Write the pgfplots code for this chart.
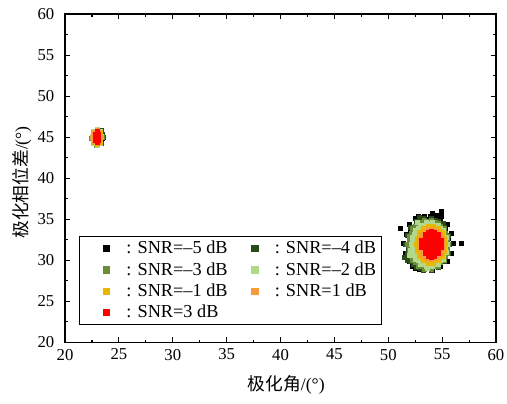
\documentclass[border=0pt]{standalone}
\usepackage{pgfplots}
\pgfplotsset{compat=1.18}
\usetikzlibrary{calc}
\usepackage{fontspec}
\setmainfont{Liberation Serif}
\newfontfamily\cjk{Noto Sans CJK SC}
\definecolor{cA}{HTML}{000000}
\definecolor{cB}{HTML}{2A4A18}
\definecolor{cC}{HTML}{6B8C3A}
\definecolor{cD}{HTML}{B2D88E}
\definecolor{cE}{HTML}{E8B800}
\definecolor{cF}{HTML}{F59B3C}
\definecolor{cG}{HTML}{FF0000}
\begin{document}
\begin{tikzpicture}
\begin{axis}[
  scale only axis, width=323pt, height=246pt,
  xmin=20, xmax=60, ymin=20, ymax=60,
  clip=false,
  xtick={20,25,...,60}, ytick={20,25,...,60},
  minor tick num=1, tick align=inside,
  major tick length=4pt, minor tick length=2pt,
  axis line style={line width=0.9pt},
  every tick/.style={black, line width=0.8pt},
  /pgf/number format/assume math mode=true,
  tick label style={font=\fontsize{12.5}{14}\selectfont},
  xticklabel style={yshift=-1.5pt},
  yticklabel style={xshift=-4.5pt},
  xlabel={{\cjk 极化角}/(°)}, ylabel={{\cjk 极化相位差}/(°)},
  label style={font=\fontsize{13.3}{15}\selectfont},
  xlabel style={at={(axis description cs:0.513,-0.131)}, anchor=center},
  ylabel style={at={(axis description cs:-0.0998,0.487)}, anchor=center},
  legend style={at={(0.032,0.052)}, anchor=south west, draw=black, line width=0.8pt,
    font=\fontsize{13.7}{16}\selectfont, legend columns=2,
    nodes={inner ysep=1pt, text height=11pt, text depth=3pt},
    inner xsep=2pt, inner ysep=1pt,
    /tikz/every even column/.append style={column sep=0pt}},
  legend cell align=left,
  legend image code/.code={\path[draw=none,fill=none] (0cm,-2pt) rectangle (1.1cm,2pt); \draw[mark size=2.3pt,#1] plot coordinates {(0.65cm,0cm)};},
  every axis plot/.append style={only marks, mark=square*, mark size=1.5pt},
]
\addplot[color=cA] coordinates {
(56.00,32.10)(55.86,33.30)(55.46,34.35)(54.85,35.13)(54.10,35.75)(53.30,35.35)(52.55,35.13)(51.94,34.35)(51.64,33.20)(51.40,32.10)(51.54,30.90)(51.94,29.85)(52.55,29.07)(53.30,28.85)(54.10,28.75)(54.85,29.27)(55.46,29.85)(55.86,30.90)
(51.1,33.9)(56.8,32.1)(54.9,35.9)(54.5,35.5)(54.9,35.3)(52.5,29.0)(55.25,30.85)(52.2,29.3)(53.9,35.3)(55.3,33.8)(52.0,33.6)(52.9,28.9)(53.6,35.0)(52.8,35.3)(55.6,32.7)
(23.3,45.0)(22.7,44.6)(23.5,44.8)
};
\addlegendentry{: SNR=--5 dB}
\addplot[color=cB] coordinates {
(55.70,31.95)(55.58,33.06)(55.22,34.04)(54.68,34.77)(54.01,35.15)(53.29,35.15)(52.63,34.77)(52.08,34.04)(51.72,33.06)(51.60,31.95)(51.72,30.84)(52.08,29.86)(52.63,29.14)(53.29,28.75)(54.01,28.75)(54.68,29.14)(55.22,29.86)(55.58,30.84)
(51.5,30.4)(51.8,30.0)(52.3,29.5)(53.0,29.0)(55.4,32.5)(52.2,33.8)(51.9,31.3)(54.4,34.9)(52.9,35.2)(55.1,34.5)
(23.52,44.95)(23.45,45.4)(23.0,46.0)(22.95,44.0)(23.35,45.8)(22.65,45.6)(23.35,44.3)(22.65,44.3)
};
\addlegendentry{: SNR=--4 dB}
\addplot[color=cC] coordinates {
(55.60,31.90)(55.49,32.93)(55.16,33.83)(54.65,34.50)(54.03,34.85)(53.37,34.85)(52.75,34.50)(52.25,33.83)(51.91,32.93)(51.80,31.90)(51.91,30.87)(52.25,29.97)(52.75,29.30)(53.37,28.95)(54.03,28.95)(54.65,29.30)(55.16,29.97)(55.49,30.87)
(55.47,32.40)(55.26,33.33)(54.86,34.08)(54.32,34.58)(53.70,34.75)(53.08,34.58)(52.54,34.08)(52.14,33.33)(51.93,32.40)(51.93,31.40)(52.14,30.48)(52.54,29.72)(53.08,29.22)(53.70,29.05)(54.32,29.22)(54.86,29.72)(55.26,30.48)(55.47,31.40)
(23.45,45.0)(22.48,44.9)(23.0,45.95)(22.9,44.0)(23.3,45.7)(22.6,45.7)(23.3,44.3)(22.6,44.3)
};
\addlegendentry{: SNR=--3 dB}
\addplot[color=cD] coordinates {
(55.45,31.90)(55.35,32.82)(55.06,33.64)(54.63,34.24)(54.09,34.56)(53.51,34.56)(52.98,34.24)(52.54,33.64)(52.25,32.82)(52.15,31.90)(52.25,30.98)(52.54,30.16)(52.98,29.56)(53.51,29.24)(54.09,29.24)(54.63,29.56)(55.06,30.16)(55.35,30.98)
(55.33,32.34)(55.14,33.18)(54.80,33.85)(54.33,34.30)(53.80,34.45)(53.27,34.30)(52.80,33.85)(52.46,33.18)(52.27,32.34)(52.27,31.46)(52.46,30.63)(52.80,29.95)(53.27,29.50)(53.80,29.35)(54.33,29.50)(54.80,29.95)(55.14,30.63)(55.33,31.46)
(51.95,30.6)(52.0,31.2)(53.6,29.0)(52.7,34.6)
(23.4,45.1)(22.5,45.1)(22.95,45.95)(22.95,44.05)(23.28,45.7)(22.6,45.7)(23.28,44.3)(22.6,44.3)
};
\addlegendentry{: SNR=--2 dB}
\addplot[color=cE] coordinates {
(55.30,31.90)(55.22,32.67)(54.98,33.35)(54.63,33.85)(54.18,34.12)(53.72,34.12)(53.28,33.85)(52.92,33.35)(52.68,32.67)(52.60,31.90)(52.68,31.13)(52.92,30.45)(53.28,29.95)(53.72,29.68)(54.18,29.68)(54.63,29.95)(54.98,30.45)(55.22,31.13)
(55.18,32.27)(55.03,32.95)(54.75,33.51)(54.38,33.87)(53.95,34.00)(53.52,33.87)(53.15,33.51)(52.87,32.95)(52.72,32.27)(52.72,31.53)(52.87,30.85)(53.15,30.29)(53.52,29.93)(53.95,29.80)(54.38,29.93)(54.75,30.29)(55.03,30.85)(55.18,31.53)
(23.38,45.0)(22.52,45.0)(22.95,45.85)(22.95,44.15)(23.25,45.6)(22.65,45.6)(23.25,44.4)(22.65,44.4)
};
\addlegendentry{: SNR=--1 dB}
\addplot[color=cF] coordinates {
(55.05,31.90)(54.98,32.53)(54.79,33.09)(54.50,33.50)(54.14,33.72)(53.76,33.72)(53.40,33.50)(53.11,33.09)(52.92,32.53)(52.85,31.90)(52.92,31.27)(53.11,30.71)(53.40,30.30)(53.76,30.08)(54.14,30.08)(54.50,30.30)(54.79,30.71)(54.98,31.27)
(54.94,32.20)(54.82,32.75)(54.59,33.20)(54.29,33.50)(53.95,33.60)(53.61,33.50)(53.31,33.20)(53.08,32.75)(52.97,32.20)(52.97,31.60)(53.08,31.05)(53.31,30.60)(53.61,30.30)(53.95,30.20)(54.29,30.30)(54.59,30.60)(54.82,31.05)(54.94,31.60)
(23.33,45.0)(22.57,45.0)(22.95,45.8)(22.95,44.2)(23.22,45.55)(22.68,45.55)(23.22,44.45)(22.68,44.45)
};
\addlegendentry{: SNR=1 dB}
\addplot[color=cG] coordinates {
(54.0,30.4)(54.0,30.8)(54.0,31.2)(54.0,31.6)(54.0,32.0)(54.0,32.4)(54.0,32.8)(54.0,33.2)(54.0,33.5)
(53.7,30.5)(53.7,30.8)(53.7,31.2)(53.7,31.6)(53.7,32.0)(53.7,32.4)(53.7,32.8)(53.7,33.2)(53.7,33.4)
(54.3,30.5)(54.3,30.8)(54.3,31.2)(54.3,31.6)(54.3,32.0)(54.3,32.4)(54.3,32.8)(54.3,33.2)(54.3,33.4)
(53.4,30.8)(53.4,31.2)(53.4,31.6)(53.4,32.0)(53.4,32.4)(53.4,32.8)(53.4,33.1)
(54.6,30.8)(54.6,31.2)(54.6,31.6)(54.6,32.0)(54.6,32.4)(54.6,32.8)(54.6,33.1)
(53.1,31.6)(53.1,32.0)(53.1,32.4)(54.9,31.6)(54.9,32.0)(54.9,32.4)
(22.85,44.6)(23.05,44.6)(22.8,45.0)(23.1,45.0)(22.85,45.4)(23.05,45.4)(22.95,45.65)(22.95,44.35)
};
\addlegendentry{: SNR=3 dB}
\end{axis}
\pgfresetboundingbox
\path[use as bounding box] ($(current axis.south west)+(-48.75pt,-45.75pt)$) rectangle ($(current axis.north east)+(8.25pt,10.5pt)$);
\end{tikzpicture}
\end{document}
